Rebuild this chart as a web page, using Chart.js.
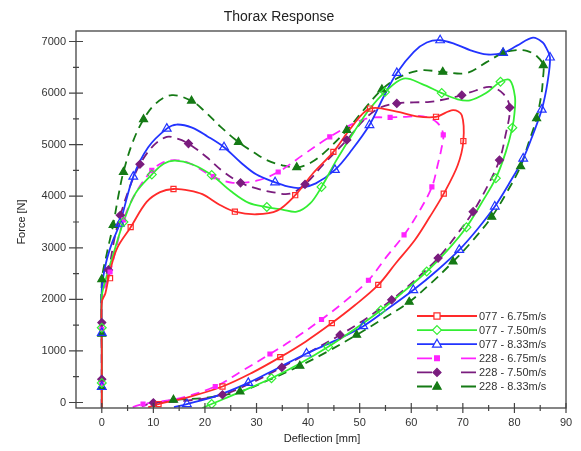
<!DOCTYPE html>
<html>
<head>
    <title>Thorax Response</title>
    <script src="https://cdn.jsdelivr.net/npm/chart.js@4"></script>
    <style>
        body { margin: 0; background: #fff; }
        #wrap { width: 581px; height: 451px; }
    </style>
</head>
<body>
    <div id="wrap"><canvas id="thorax" width="581" height="451"></canvas></div>
    <script>
        // axis ranges and ticks
        const xRange = [-5, 90];
        const yRange = [-107, 7204];
        const xMajor = [0, 10, 20, 30, 40, 50, 60, 70, 80, 90];
        const xMinor = [5, 15, 25, 35, 45, 55, 65, 75, 85];
        const yMajor = [0, 1000, 2000, 3000, 4000, 5000, 6000, 7000];
        const yMinor = [500, 1500, 2500, 3500, 4500, 5500, 6500];

        const seriesNames = ['077 - 6.75m/s', '077 - 7.50m/s', '077 - 8.33m/s',
                             '228 - 6.75m/s', '228 - 7.50m/s', '228 - 8.33m/s'];

        // [deflection mm, force N]
        const curve077_675 = [[0,-107],[0,1000],[0,1950],[0.7,2120],[1.6,2550],[3,3000],[5.6,3400],[8.7,3890],[11.3,4080],[13.9,4140],[17,4110],[19.5,4040],[22.9,3830],[25.8,3700],[30,3650],[34,3720],[37.5,4020],[41,4450],[44.9,4860],[48.5,5350],[52,5700],[57.2,5640],[61,5550],[64.8,5540],[68.1,5670],[69.8,5570],[70.1,5070],[69,4600],[66.3,4050],[63.6,3600],[60.7,3150],[57,2700],[53.6,2280],[49,1880],[44.6,1540],[39.5,1180],[34.6,880],[29,570],[23.4,310],[17,110],[11,-30],[9,-90]];
        const marks077_675 = [[1.6,2410],[5.6,3400],[13.9,4140],[25.8,3700],[37.5,4020],[44.9,4860],[52,5700],[64.8,5540],[70.1,5070],[66.3,4050],[53.6,2280],[44.6,1540],[34.6,880],[23.4,310],[11,-30]];

        const curve077_750 = [[0,-107],[0,1000],[0,2050],[0.8,2400],[2,2800],[4.2,3500],[6.5,4050],[9.7,4420],[12,4630],[14.2,4690],[17.5,4620],[21.3,4410],[25,4100],[28.5,3870],[32,3790],[35,3740],[37.8,3700],[40.4,3860],[42.6,4180],[45.5,4700],[49.1,5280],[52,5700],[54.9,6020],[58.5,6280],[62,6180],[65.9,6000],[69,5880],[71.4,5860],[74.5,6000],[77.3,6220],[79.1,6250],[80.1,5930],[80,5600],[79.6,5330],[78.3,4850],[76.4,4350],[73.5,3850],[70.7,3400],[67,2950],[63,2540],[58.5,2150],[54.1,1790],[49,1420],[43.9,1080],[38.5,760],[32.9,470],[27,210],[21.3,-30],[19.5,-107]];
        const marks077_750 = [[0,1450],[0,380],[4.2,3500],[9.7,4420],[21.3,4410],[32,3790],[42.6,4180],[54.9,6020],[65.9,6000],[77.3,6220],[79.6,5330],[76.4,4350],[70.7,3400],[63,2540],[54.1,1790],[43.9,1080],[32.9,470],[21.3,-30]];

        const curve077_833 = [[0,-107],[0,1000],[0,2200],[0.8,2700],[2,3100],[3.5,3470],[6.1,4380],[9,4950],[12.6,5310],[14.5,5390],[17.5,5330],[20.5,5160],[23.7,4950],[27,4650],[30,4420],[33.6,4270],[36,4190],[38.4,4160],[41.5,4250],[45.2,4510],[48.5,4900],[51.9,5380],[54.5,5900],[57.2,6390],[60.5,6800],[63,6980],[65.6,7025],[68.5,6950],[71.5,6830],[74.6,6750],[77.8,6780],[80.5,6920],[83.6,7075],[85.5,6980],[86.2,6870],[86.9,6690],[86.4,6200],[85.3,5680],[83.6,5200],[81.7,4730],[79,4250],[76.2,3800],[72.9,3370],[69.3,2960],[65,2560],[60.4,2180],[55.5,1820],[50.7,1480],[45,1190],[39.7,950],[34,660],[28.4,380],[22,120],[16.5,-30],[14,-90]];
        const marks077_833 = [[0,1350],[0,300],[3.5,3470],[6.1,4380],[12.6,5310],[23.7,4950],[33.6,4270],[45.2,4510],[51.9,5380],[57.2,6390],[65.6,7025],[77.8,6780],[86.9,6690],[85.3,5680],[81.7,4730],[76.2,3800],[69.3,2960],[60.4,2180],[50.7,1480],[39.7,950],[28.4,380],[16.5,-30]];

        const curve228_675 = [[0,-107],[0,1000],[0,2000],[0.8,2300],[1.6,2530],[2.8,3000],[4.2,3540],[6.5,4050],[9.7,4500],[12,4660],[14.2,4700],[17,4640],[21.6,4380],[25.4,4260],[30,4300],[34.2,4470],[39,4800],[44.2,5150],[49,5420],[52,5520],[55.9,5530],[59,5540],[62.3,5550],[65,5430],[66.2,5200],[65.8,4900],[65.2,4640],[64,4180],[61.5,3700],[58.6,3250],[55,2800],[51.7,2370],[47,1950],[42.6,1610],[37.5,1250],[32.6,940],[27,600],[22,310],[15,80],[8,-30],[6,-90]];
        const marks228_675 = [[0,1420],[0,350],[1.6,2530],[4.2,3540],[9.7,4500],[21.6,4380],[34.2,4470],[44.2,5150],[55.9,5530],[66.2,5190],[64,4180],[58.6,3250],[51.7,2370],[42.6,1610],[32.6,940],[22,310],[8,-30]];

        const curve228_750 = [[0,-107],[0,1000],[0,2200],[0.6,2450],[1.3,2570],[2.5,3200],[3.6,3630],[5.5,4200],[7.4,4620],[10,4980],[12.6,5150],[14.5,5120],[16.8,5020],[20.3,4760],[23.5,4480],[26.9,4260],[30,4150],[33,4080],[36.5,4050],[39.4,4230],[43,4620],[47.5,5090],[51,5500],[54,5720],[57.2,5800],[60.5,5820],[63.6,5830],[66.5,5880],[69.8,5960],[72.5,6050],[75.3,6120],[77.8,5990],[79.1,5720],[78.2,5150],[77.1,4700],[74.8,4200],[72,3700],[68.8,3250],[65.2,2800],[60.8,2380],[56.2,1990],[51.3,1630],[46.2,1310],[40.5,990],[34.9,680],[29,380],[23.4,150],[16,30],[10,-5],[7.8,-70]];
        const marks228_750 = [[0,1550],[0,450],[1.3,2570],[3.6,3630],[7.4,4620],[16.8,5020],[26.9,4260],[39.4,4230],[47.5,5090],[57.2,5800],[69.8,5960],[79.1,5720],[77.1,4700],[72,3700],[65.2,2800],[56.2,1990],[46.2,1310],[34.9,680],[23.4,150],[10,-5]];

        const curve228_833 = [[0,-107],[0,1000],[0,2350],[1,2900],[2.2,3440],[3.2,4000],[4.2,4470],[6,5050],[8.1,5490],[10.5,5800],[13.6,5960],[17.4,5850],[19.7,5670],[23,5350],[26.5,5050],[29.5,4850],[32,4700],[35,4600],[37.8,4560],[40.5,4650],[43.3,4860],[47.5,5280],[51,5700],[54.3,6070],[57.5,6300],[61.7,6440],[66.1,6410],[70.7,6390],[74.6,6600],[77.8,6780],[80,6830],[82.4,6820],[84.5,6700],[85.6,6540],[85.5,6250],[85.3,6020],[84.3,5510],[82.8,5050],[81.2,4580],[78.5,4070],[75.6,3600],[72,3150],[68.1,2730],[64,2330],[59.6,1950],[54.5,1620],[49.4,1310],[44,1000],[38.4,710],[32.5,440],[26.8,210],[20,90],[13.9,50],[11,-20],[10,-90]];
        const marks228_833 = [[0,1330],[0,300],[0,2390],[2.2,3440],[4.2,4470],[8.1,5490],[17.4,5850],[26.5,5050],[37.8,4560],[47.5,5280],[54.3,6070],[66.1,6410],[77.8,6780],[85.6,6540],[84.3,5510],[81.2,4580],[75.6,3600],[68.1,2730],[59.6,1950],[49.4,1310],[38.4,710],[26.8,210],[13.9,50]];

        const curves = [curve077_675, curve077_750, curve077_833, curve228_675, curve228_750, curve228_833];
        const marks = [marks077_675, marks077_750, marks077_833, marks228_675, marks228_750, marks228_833];

        const styles = [
            { color: '#ff2a2a', dash: [], point: 'rect', radius: 3.6, fill: false },
            { color: '#33ee33', dash: [], point: 'rectRot', radius: 4.4, fill: false },
            { color: '#2233ff', dash: [], point: 'triangle', radius: 5, fill: false },
            { color: '#ff22ff', dash: [9, 6], point: 'rect', radius: 2.8, fill: true },
            { color: '#7a1c7e', dash: [9, 6], point: 'rectRot', radius: 4, fill: true },
            { color: '#157a15', dash: [9, 6], point: 'triangle', radius: 4.6, fill: true }
        ];

        const toXY = arr => arr.map(p => ({ x: p[0], y: p[1] }));

        const datasets = [];
        curves.forEach((c, i) => {
            const s = styles[i];
            datasets.push({
                label: seriesNames[i],
                data: toXY(c),
                showLine: true,
                borderColor: s.color,
                borderWidth: 1.8,
                borderDash: s.dash,
                tension: 0.35,
                pointRadius: 0,
                order: 2
            });
        });
        marks.forEach((m, i) => {
            const s = styles[i];
            datasets.push({
                label: seriesNames[i] + ' marks',
                data: toXY(m),
                showLine: false,
                pointStyle: s.point,
                pointRadius: s.radius,
                pointBorderWidth: 1.2,
                pointBorderColor: s.color,
                pointBackgroundColor: s.fill ? s.color : 'rgba(255,255,255,0)',
                order: 1
            });
        });

        const FONT = '"Liberation Sans", Arial, sans-serif';

        function drawMarker(ctx, style, x, y) {
            const r = style.radius;
            ctx.save();
            ctx.setLineDash([]);
            ctx.lineWidth = 1.2;
            ctx.strokeStyle = style.color;
            ctx.fillStyle = style.fill ? style.color : '#fff';
            ctx.beginPath();
            if (style.point === 'rect') {
                const h = r * 0.85;
                ctx.rect(x - h, y - h, 2 * h, 2 * h);
            } else if (style.point === 'rectRot') {
                ctx.moveTo(x, y - r); ctx.lineTo(x + r, y); ctx.lineTo(x, y + r); ctx.lineTo(x - r, y); ctx.closePath();
            } else {
                ctx.moveTo(x, y - r); ctx.lineTo(x + r * 0.9, y + r * 0.6); ctx.lineTo(x - r * 0.9, y + r * 0.6); ctx.closePath();
            }
            ctx.fill();
            ctx.stroke();
            ctx.restore();
        }

        const decorPlugin = {
            id: 'decor',
            afterDraw(chart) {
                const ctx = chart.ctx;
                const a = chart.chartArea;
                const xs = chart.scales.x, ys = chart.scales.y;
                ctx.save();
                // frame
                ctx.strokeStyle = '#444';
                ctx.lineWidth = 1.3;
                ctx.strokeRect(a.left, a.top, a.right - a.left, a.bottom - a.top);
                // ticks
                ctx.lineWidth = 1.2;
                ctx.beginPath();
                xMajor.forEach(v => { const p = xs.getPixelForValue(v); ctx.moveTo(p, a.bottom - 5); ctx.lineTo(p, a.bottom + 5); });
                xMinor.forEach(v => { const p = xs.getPixelForValue(v); ctx.moveTo(p, a.bottom - 3); ctx.lineTo(p, a.bottom + 3); });
                yMajor.forEach(v => { const p = ys.getPixelForValue(v); ctx.moveTo(a.left - 7, p); ctx.lineTo(a.left + 7, p); });
                yMinor.forEach(v => { const p = ys.getPixelForValue(v); ctx.moveTo(a.left - 3, p); ctx.lineTo(a.left + 3, p); });
                ctx.stroke();
                // tick labels
                ctx.fillStyle = '#333';
                ctx.font = '11px ' + FONT;
                ctx.textAlign = 'center';
                ctx.textBaseline = 'middle';
                xMajor.forEach(v => ctx.fillText(String(v), xs.getPixelForValue(v), a.bottom + 15));
                ctx.textAlign = 'right';
                yMajor.forEach(v => ctx.fillText(String(v), a.left - 10, ys.getPixelForValue(v)));
                // titles
                ctx.fillStyle = '#222';
                ctx.textAlign = 'center';
                ctx.font = '14px ' + FONT;
                ctx.fillText('Thorax Response', 279, 17);
                ctx.font = '11px ' + FONT;
                ctx.fillText('Deflection [mm]', 322, 439);
                ctx.save();
                ctx.translate(22, 222);
                ctx.rotate(-Math.PI / 2);
                ctx.fillText('Force [N]', 0, 0);
                ctx.restore();
                // legend
                ctx.font = '11px ' + FONT;
                ctx.textAlign = 'left';
                seriesNames.forEach((name, i) => {
                    const s = styles[i];
                    const y = 316 + i * 14.1;
                    ctx.strokeStyle = s.color;
                    ctx.lineWidth = 1.8;
                    ctx.beginPath();
                    if (s.dash.length) {
                        ctx.moveTo(417, y); ctx.lineTo(432, y);
                        ctx.moveTo(461, y); ctx.lineTo(476, y);
                    } else {
                        ctx.moveTo(417, y); ctx.lineTo(477, y);
                    }
                    ctx.stroke();
                    drawMarker(ctx, s, 437, y);
                    ctx.fillStyle = '#333';
                    ctx.fillText(name, 479, y + 0.5);
                });
                ctx.restore();
            }
        };

        new Chart(document.getElementById('thorax'), {
            type: 'scatter',
            data: { datasets: datasets },
            options: {
                responsive: false,
                animation: false,
                layout: { padding: { left: 76, right: 15, top: 31, bottom: 43 } },
                scales: {
                    x: { type: 'linear', min: xRange[0], max: xRange[1], display: false },
                    y: { type: 'linear', min: yRange[0], max: yRange[1], display: false }
                },
                plugins: { legend: { display: false }, tooltip: { enabled: false }, title: { display: false } }
            },
            plugins: [decorPlugin]
        });
    </script>
</body>
</html>
